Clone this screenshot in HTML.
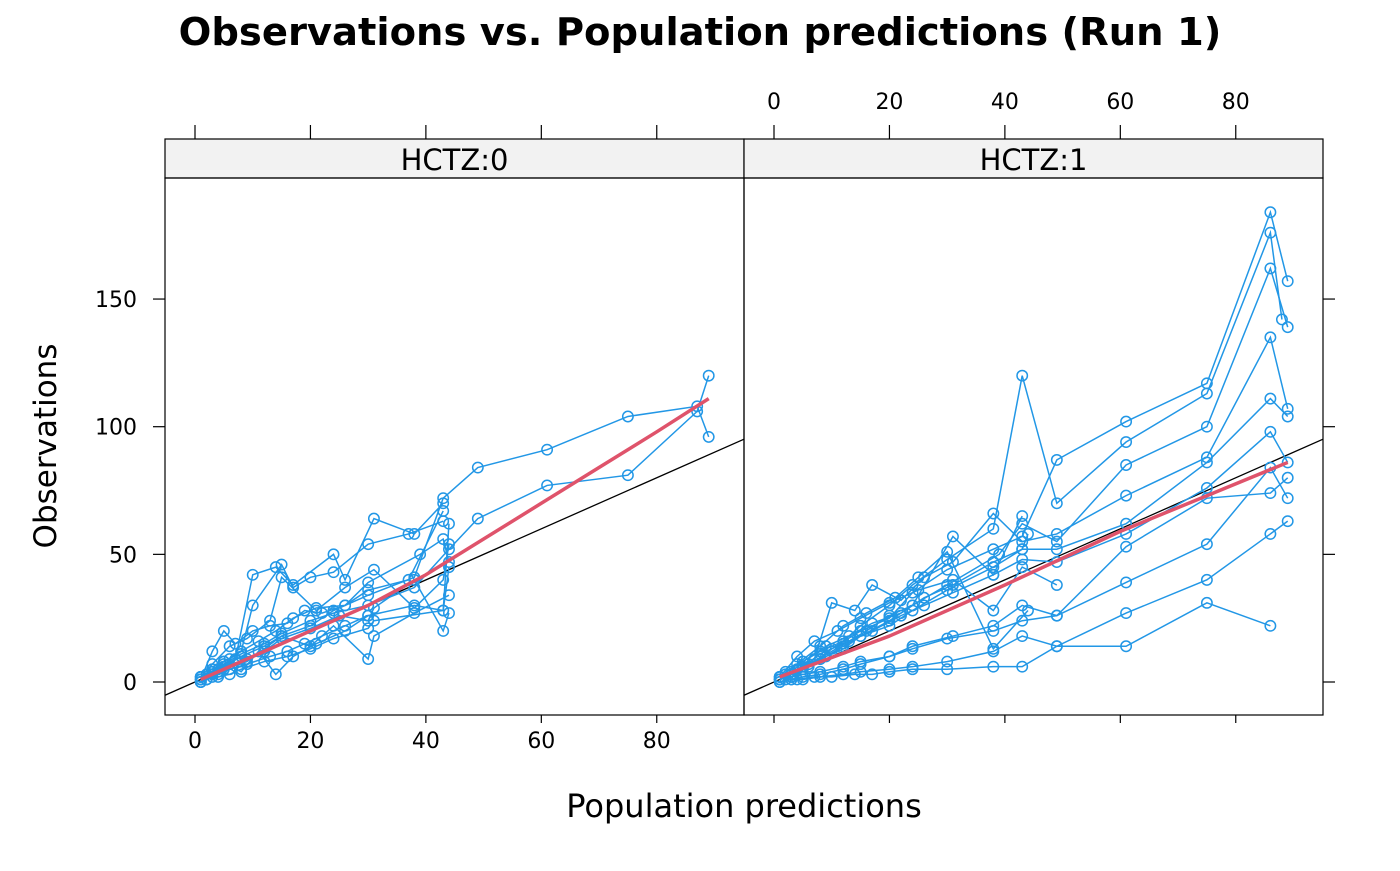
<!DOCTYPE html>
<html><head><meta charset="utf-8">
<style>
html,body{margin:0;padding:0;background:#fff;}
svg text{font-family:"DejaVu Sans","Liberation Sans",sans-serif;}
</style></head>
<body>
<svg id="chart" width="1400" height="866" viewBox="0 0 1400 866" xmlns="http://www.w3.org/2000/svg">
<text x="700" y="45" font-size="38.5" font-weight="bold" text-anchor="middle">Observations vs. Population predictions (Run 1)</text>
<text x="744" y="817" font-size="32" text-anchor="middle">Population predictions</text>
<text transform="translate(56,446) rotate(-90)" font-size="31" text-anchor="middle">Observations</text>
<g id="plot"></g>
</svg>
<script>
const xTicks=[0,20,40,60,80];
const yTicks=[0,50,100,150];
const panelNames=["HCTZ:0","HCTZ:1"];
const leftX=[[1,3,5,8,12,15,20,24,30,38,43,49,61,75,87,89],[1,3,5,8,12,15,20,24,30,38,44,49,61,75,87,89],[1,2,4,7,10,14,17,24,26,31,38,43],[1,3,5,8,10,15,17,20,24,30,37,43],[1,3,5,9,12,15,20,24,30,31,38,44],[1,3,5,9,12,15,20,25,30,31,38,43,44],[2,4,6,8,11,14,17,21,26,30,39,43,44],[1,2,4,6,9,13,16,19,22,26,30,38,43,44],[1,3,6,9,13,15,21,26,31,38,43,44],[1,3,5,7,10,13,16,19,22,26,30,37,43],[1,2,4,6,8,12,16,20,24,30,31,43,44],[1,3,5,8,11,14,17,21,26,30]];
const leftY=[[1,3,6,10,14,18,22,28,34,41,72,84,91,104,108,96],[2,4,7,11,15,19,24,27,30,37,52,64,77,81,106,120],[1,3,5,9,42,45,38,50,40,64,58,70],[2,4,8,12,30,46,37,41,43,54,58,63],[0,2,5,8,13,18,14,22,9,18,27,34],[1,3,6,9,12,17,21,26,24,29,40,20,27],[1,4,9,12,16,20,25,29,30,39,50,56,47],[0,1,3,5,7,10,12,15,18,22,26,30,28,62],[2,7,14,17,24,41,28,37,44,29,40,54],[1,12,20,15,20,22,23,28,27,30,36,40,67],[0,1,2,3,5,8,10,13,17,21,24,28,45],[2,5,8,4,12,3,10,15,20,26]];
const rightX=[[1,3,5,8,10,15,20,24,30,38,43,49,61,75,86,89],[1,3,5,8,12,15,20,24,30,38,43,49,61,75,86,88],[1,3,6,9,12,15,20,24,30,39,43,49,61,75,86,89],[1,4,7,10,14,17,22,26,31,38,43,49,61,75,86,89],[1,3,5,8,12,15,20,24,30,38,43,49,61,75,86,89],[2,5,8,12,17,22,26,31,38,43,49,61,75,86,89],[1,3,5,8,12,15,20,24,31,38,43,49,61,75,86,89],[1,3,5,8,12,15,20,24,30,38,43,49,61,75,86,89],[1,3,5,8,12,15,20,24,30,38,43,49,61,75,86,89],[2,4,7,10,14,17,20,24,30,38,43,49,61,75,86],[1,4,7,11,15,20,25,31,38,43,49],[2,5,9,13,17,22,26,31,38,43,44],[1,3,6,10,13,16,20,24,31,38,43],[1,4,8,12,16,21,25,30,38,44]];
const rightY=[[1,3,5,9,13,20,25,35,44,52,57,87,102,117,184,157],[2,4,8,12,16,22,30,38,48,60,120,70,94,113,176,142],[1,2,6,10,14,18,24,30,38,50,62,55,85,100,162,139],[2,5,9,31,28,38,32,41,47,66,55,58,73,88,135,107],[1,3,6,9,13,18,22,28,36,45,52,52,62,86,111,104],[3,6,11,15,20,26,30,35,42,48,47,58,76,98,86],[1,2,3,4,6,8,10,14,18,22,30,26,53,72,74,80],[0,1,2,3,5,7,10,13,17,20,24,26,39,54,84,72],[0,1,1,2,3,4,5,6,8,12,18,14,27,40,58,63],[1,1,2,2,3,3,4,5,5,6,6,14,14,31,22],[2,10,16,20,25,31,36,40,28,45,38],[4,8,14,18,23,27,33,38,47,52,58],[1,3,7,12,16,20,26,30,57,42,65],[2,7,14,22,27,33,41,51,13,28]];
const smoothLX=[1,10,20,30,40,50,60,70,80,89];
const smoothLY=[1,10,20,30,42,56,70,84,98,111];
const smoothRX=[1,20,40,60,89];
const smoothRY=[2,18,38,59,86];

const NS="http://www.w3.org/2000/svg";
const plotG=document.getElementById('plot');
const px0=[165,744], pw=579, plotTop=178, plotBot=715;
function xs(p,v){return px0[p]+30+v*5.772;}
function ys(v){return 682-v*2.553;}
function mk(t,a,parent){const e=document.createElementNS(NS,t);for(const k in a)e.setAttribute(k,a[k]);(parent||plotG).appendChild(e);return e;}
const panels=[[leftX,leftY,smoothLX,smoothLY],[rightX,rightY,smoothRX,smoothRY]];
for(let p=0;p<2;p++){
  const L=px0[p],R=L+pw;
  const grp=mk('g',{});
  
  
  const clip=mk('clipPath',{id:'c'+p},grp);
  mk('rect',{x:L,y:plotTop,width:pw,height:plotBot-plotTop},clip);
  const strip=mk('rect',{x:L,y:139,width:pw,height:39,fill:'#f2f2f2',stroke:'#000','stroke-width':1.2},grp);
  
  
  const st=mk('text',{x:L+pw/2,y:170,'font-size':29,'text-anchor':'middle'},grp);
  st.textContent=panelNames[p];
  
  
  const inner=mk('g',{'clip-path':'url(#c'+p+')'},grp);
  const idl=mk('line',{x1:xs(p,-10),y1:ys(-10),x2:xs(p,100),y2:ys(100),stroke:'#000','stroke-width':1.3},inner);
  
  
  const [X,Y,SX,SY]=panels[p];
  for(let i=0;i<X.length;i++){
    const pts=X[i].map((v,j)=>xs(p,v)+','+ys(Y[i][j])).join(' ');
    const pl=mk('polyline',{points:pts,fill:'none',stroke:'#2297E6','stroke-width':1.5},inner);
    
    
    for(let j=0;j<X[i].length;j++){
      const c=mk('circle',{cx:xs(p,X[i][j]),cy:ys(Y[i][j]),r:5.2,fill:'none',stroke:'#2297E6','stroke-width':1.5},inner);
      
      
    }
  }
  const sm=mk('polyline',{points:SX.map((v,j)=>xs(p,v)+','+ys(SY[j])).join(' '),fill:'none',stroke:'#DF536B','stroke-width':3.5},inner);
  
  
  mk('rect',{x:L,y:plotTop,width:pw,height:plotBot-plotTop,fill:'none',stroke:'#000','stroke-width':1.2},grp);
  for(const t of xTicks){
    const x=xs(p,t);
    mk('line',{x1:x,y1:plotBot,x2:x,y2:plotBot+8,stroke:'#000','stroke-width':1.2},grp);
    mk('line',{x1:x,y1:139,x2:x,y2:125,stroke:'#000','stroke-width':1.2},grp);
    if(p===0){const tx=mk('text',{x:x,y:748,'font-size':22,'text-anchor':'middle'},grp);tx.textContent=t;
      
      }
    else{const tx=mk('text',{x:x,y:109,'font-size':22,'text-anchor':'middle'},grp);tx.textContent=t;
      
      }
  }
  for(const t of yTicks){
    const y=ys(t);
    if(p===0){mk('line',{x1:L,y1:y,x2:L-12,y2:y,stroke:'#000','stroke-width':1.2},grp);
      const tx=mk('text',{x:137,y:y+8,'font-size':22,'text-anchor':'end'},grp);tx.textContent=t;
      
      }
    else mk('line',{x1:R,y1:y,x2:R+12,y2:y,stroke:'#000','stroke-width':1.2},grp);
  }
}
</script>
</body></html>
